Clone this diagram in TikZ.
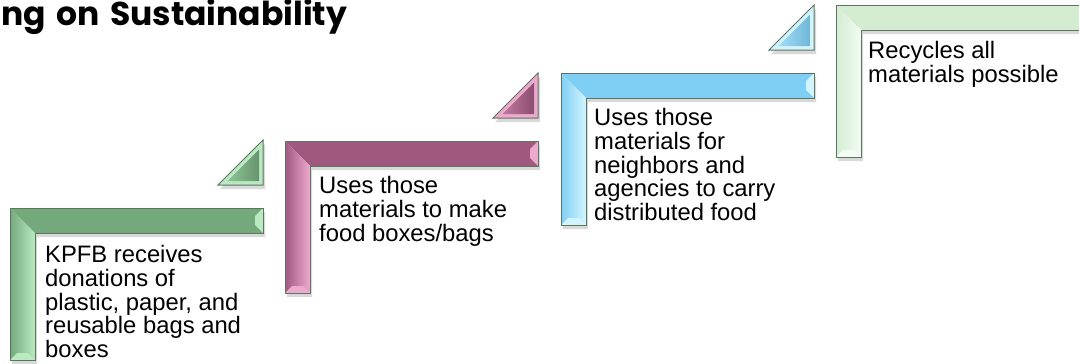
\documentclass[tikz,border=0pt]{standalone}
\usepackage{fontspec}
\setmainfont{Liberation Sans}
\newfontfamily\titlefont{Poppins}[WordSpace=1.5]
\usetikzlibrary{positioning}

\definecolor{stepgreen}{HTML}{74A97C}
\definecolor{stepgreenhi}{HTML}{B9EAC1}
\definecolor{stepmauve}{HTML}{A0587F}
\definecolor{stepmauvehi}{HTML}{EEA9CF}
\definecolor{stepblue}{HTML}{7FCFF4}
\definecolor{stepbluehi}{HTML}{D2F4FF}
\definecolor{stepmint}{HTML}{D3ECD2}
\definecolor{stepminthi}{HTML}{F2FCF2}
\definecolor{steprim}{HTML}{5B755F}

\begin{document}
\begin{tikzpicture}[
  x=1pt, y=-1pt,
  rim/.style={draw=steprim, line width=1pt, line join=miter},
  steptext/.style={anchor=north west, inner sep=0pt, align=left, font=\fontsize{23.8}{23.7}\selectfont}
]
\clip (0,0) rectangle (1079,364);
\node[anchor=base west, inner sep=0pt, font=\titlefont\bfseries\fontsize{33}{39}\selectfont] (title) at (1,25) {ng on Sustainability};

% the four bent steps
\foreach \x/\y/\c/\h in {10/208/stepgreen/stepgreenhi, 285/141/stepmauve/stepmauvehi, 561/73/stepblue/stepbluehi, 836/5/stepmint/stepminthi} {
  \fill[black, opacity=0.15] (\x+2,\y+4) -- (\x+255,\y+4) -- (\x+255,\y+29) -- (\x+27,\y+29) -- (\x+27,\y+156) -- (\x+2,\y+156) -- cycle;
  \fill[\c] (\x,\y) -- (\x+253,\y) -- (\x+253,\y+25) -- (\x+25,\y+25) -- cycle;
  \shade[left color=\c, right color=\h] (\x,\y) -- (\x+25,\y+25) -- (\x+25,\y+152) -- (\x,\y+152) -- cycle;
  \fill[\h] (\x+253,\y) -- (\x+245,\y+8) -- (\x+245,\y+17) -- (\x+253,\y+25) -- cycle;
  \fill[\h] (\x,\y+152) -- (\x+7,\y+145) -- (\x+18,\y+145) -- (\x+25,\y+152) -- cycle;
  \draw[rim] (\x,\y) -- (\x+253,\y) -- (\x+253,\y+25) -- (\x+25,\y+25) -- (\x+25,\y+152) -- (\x,\y+152) -- cycle;
}

% small corner triangles
\foreach \x/\y/\c/\h in {10/208/stepgreen/stepgreenhi, 285/141/stepmauve/stepmauvehi, 561/73/stepblue/stepbluehi} {
  \fill[black, opacity=0.15] (\x+210,\y-19) -- (\x+255,\y-64) -- (\x+255,\y-19) -- cycle;
  \fill[\h] (\x+208,\y-23) -- (\x+253,\y-68) -- (\x+253,\y-23) -- cycle;
  \shade[left color=\h!40!\c, right color=\c!88!black] (\x+217.7,\y-27) -- (\x+249,\y-58.3) -- (\x+249,\y-27) -- cycle;
  \draw[rim] (\x+208,\y-23) -- (\x+253,\y-68) -- (\x+253,\y-23) -- cycle;
}

\node[steptext] (kpfb) at (45,245.3) {KPFB receives\\donations of\\plastic, paper, and\\reusable bags and\\boxes};
\node[steptext] (make) at (319,176.3) {Uses those\\materials to make\\food boxes/bags};
\node[steptext] (carry) at (594,108.3) {Uses those\\materials for\\neighbors and\\agencies to carry\\distributed food};
\node[steptext] (recycle) at (868,41.3) {Recycles all\\materials possible};
\end{tikzpicture}
\end{document}
